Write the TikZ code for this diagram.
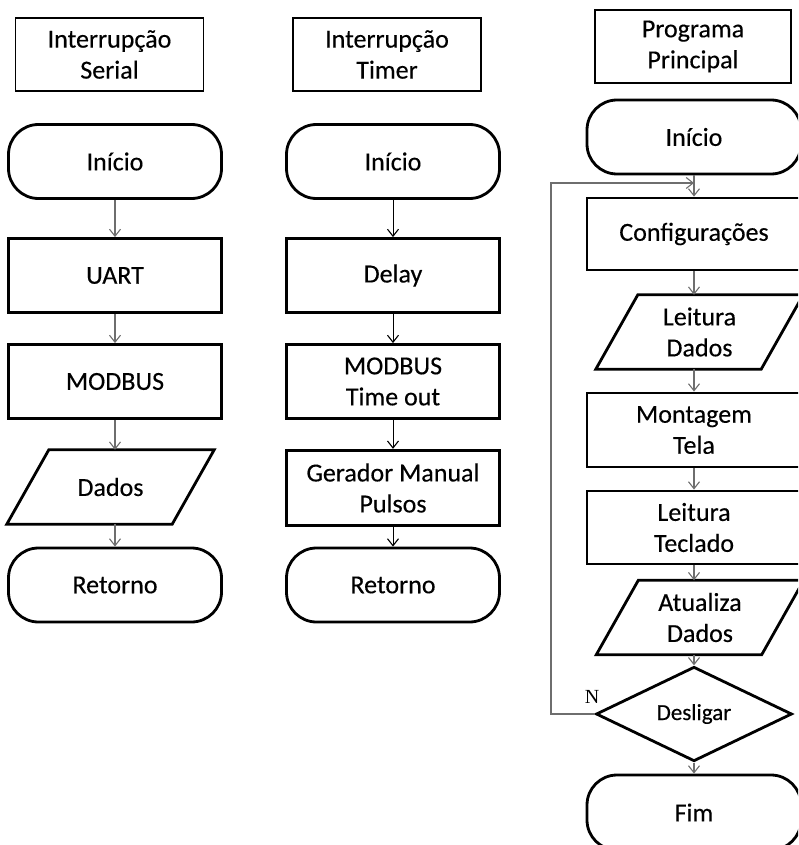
\documentclass[tikz,border=0pt]{standalone}
\usepackage{fontspec}
\setmainfont[FakeBold=0.3]{Carlito}
\newfontfamily\labelserif{Liberation Serif}
\usetikzlibrary{arrows.meta,shapes.geometric}
\definecolor{arrowgray}{RGB}{110,110,110}

\tikzset{
  every node/.style={font=\fontsize{26}{31}\selectfont, align=center, inner sep=0pt},
  header/.style={draw, line width=1.5pt, minimum width=188pt, minimum height=73pt},
  procbox/.style={draw, line width=2.8pt, minimum width=213pt, minimum height=74pt},
  termbox/.style={procbox, rounded corners=30pt},
  iotext/.style={minimum width=165pt, minimum height=74pt},
  ioline/.style={draw, line width=2.8pt, line join=miter},
  decision/.style={diamond, draw, line width=2.8pt, minimum width=196pt,
    minimum height=88pt, font=\fontsize{23}{27}\selectfont},
  nlabel/.style={font=\labelserif\fontsize{20}{24}\selectfont},
  flow/.style={draw=arrowgray, line width=1.2pt,
    -{Straight Barb[length=7pt,width=11pt,line width=1.1pt]}},
  flowdark/.style={flow, draw=black, line width=0.9pt}
}

% input/output parallelogram: a named text node plus its slanted outline
\newcommand\ionode[3]{%
  \node[iotext] (#1) at (#2) {#3};
  \draw[ioline] ([xshift=21pt]#1.north west) -- ([xshift=21pt]#1.north east)
    -- ([xshift=-21pt]#1.south east) -- ([xshift=-21pt]#1.south west) -- cycle;
}

\begin{document}
\begin{tikzpicture}[x=1pt,y=-1pt]
\useasboundingbox (0,0) rectangle (798,845);
\clip (0,0) rectangle (798,845);

% ---- serial interrupt ----
\node[header] (h1) at (109.5,54.5) {Interrupção\\Serial};
\node[termbox] (s1) at (115,161.5) {Início};
\node[procbox] (s2) at (115,275.5) {UART};
\node[procbox] (s3) at (115,381.5) {MODBUS};
\ionode{s4}{110.5,487}{Dados}
\node[termbox] (s5) at (115,585) {Retorno};

\draw[flow] (s1) -- (s2);
\draw[flow] (s2) -- (s3);
\draw[flow] (s3.south) -- (s3.south |- s4.north);
\draw[flow] (s5.north |- s4.south) -- (s5.north);

% ---- timer interrupt ----
\node[header] (h2) at (387,54.5) {Interrupção\\Timer};
\node[termbox] (t1) at (393,161.5) {Início};
\node[procbox] (t2) at (393,275.5) {Delay};
\node[procbox] (t3) at (393,381.5) {MODBUS\\Time out};
\node[procbox, line width=3.3pt, minimum height=75pt] (t4) at (393,488) {Gerador Manual\\Pulsos};
\node[termbox] (t5) at (393,585) {Retorno};

\draw[flowdark] (t1) -- (t2);
\draw[flowdark] (t2) -- (t3);
\draw[flowdark] (t3) -- (t4);
\draw[flowdark] (t4) -- (t5);

% ---- main program ----
\node[header, minimum width=196pt] (h3) at (693,46.5) {Programa\\Principal};
\node[termbox, minimum width=214pt] (p1) at (694,137) {Início};
\node[procbox, minimum width=214pt, minimum height=72pt] (p2) at (694,234) {Configurações};
\ionode{p3}{699.5,332}{Leitura\\Dados}
\node[procbox, minimum width=214pt] (p4) at (694,430) {Montagem\\Tela};
\node[procbox, minimum width=214pt, minimum height=73pt] (p5) at (694,527.5) {Leitura\\Teclado};
\ionode{p6}{700,617.5}{Atualiza\\Dados}
\node[decision] (p7) at (694,714) {Desligar};
\node[termbox, minimum width=214pt, minimum height=75pt] (p8) at (694,812.5) {Fim};
\node[nlabel] (nlab) at (592,697) {N};

\coordinate (join) at (694,183);
\coordinate (looptop) at (551,183);

\draw[flow] (p1.south) -- (join) -- (p2.north);
\draw[flow] (p2.south) -- (p2.south |- p3.north);
\draw[flow] (p4.north |- p3.south) -- (p4.north);
\draw[flow] (p4) -- (p5);
\draw[flow] (p5.south) -- (p5.south |- p6.north);
\draw[flow] (p7.north |- p6.south) -- (p7.north);
\draw[flow] (p7) -- (p8);
\draw[flow] (p7.west) -| (looptop) -- (join);
\end{tikzpicture}
\end{document}
